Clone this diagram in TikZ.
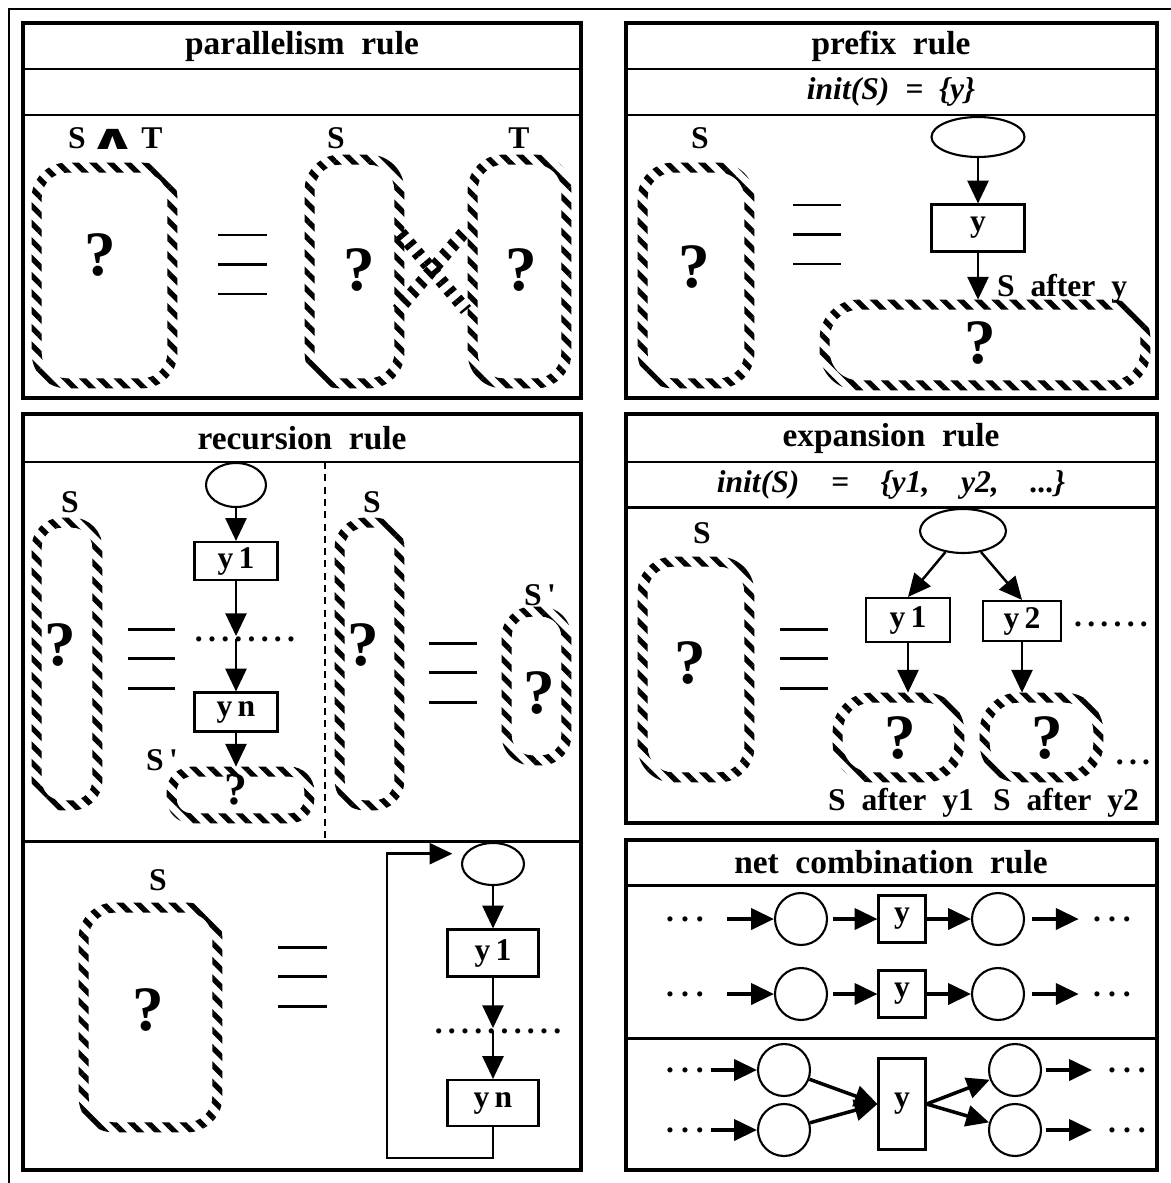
\documentclass[tikz,border=0pt]{standalone}
\usepackage{fontspec}
\setmainfont{Liberation Serif}[WordSpace=2]
\newfontfamily\wedgefont{DejaVu Sans}
\usetikzlibrary{arrows.meta,shapes.geometric,patterns.meta,fit}

\newcommand\titlefont{\fontsize{19}{23}\selectfont\bfseries}
\newcommand\labfont{\fontsize{18}{22}\selectfont\bfseries}
\newcommand\qfont{\fontsize{36}{40}\selectfont\bfseries}
\newcommand\qsmall{\fontsize{26}{30}\selectfont\bfseries}

\tikzset{
    panel/.style={line width=2.8pt},
    divider/.style={line width=1.7pt},
    eqline/.style={line width=1.7pt},
    arr/.style={-{Triangle[length=13pt,width=12pt]}, line width=1.4pt},
    arrw/.style={arr, line width=2pt},
    place/.style={draw, line width=1.2pt, inner sep=0pt},
    trans/.style={draw, rectangle, line width=1.2pt, inner sep=0pt, font=\labfont},
    lbl/.style={font=\labfont, inner sep=1pt},
    ttl/.style={font=\titlefont, inner sep=1pt},
    qm/.style={font=\qfont, inner sep=0pt},
    dotrow/.style={font=\labfont, inner sep=0pt},
    stripes/.style={pattern={Lines[angle=-45,distance=7pt,line width=3pt]}},
    stripesb/.style={pattern={Lines[angle=40,distance=7pt,line width=3pt]}},
}

% name, corner, opposite corner, corner radius
\newcommand\hatchbox[4]{%
    \node[fit={(#2) (#3)}, inner sep=0pt] (#1) {};
    \fill[stripes, even odd rule]
        [rounded corners=#4] (#1.south west) rectangle (#1.north east)
        [rounded corners=#4-5.5pt] ([shift={(10,-10)}]#1.south west) rectangle ([shift={(-10,10)}]#1.north east);
}

\begin{document}
\begin{tikzpicture}[x=0.02cm, y=-0.02cm]
    \useasboundingbox (0,0) rectangle (1170,1183);
    \draw[line width=1.2pt] (9,1200) -- (9,9) -- (1190,9);

    \foreach \xa/\ya/\xb/\yb in {
        23/23/581/398, 626/23/1157/398, 23/414/581/1170,
        626/414/1157/823, 626/840/1157/1170
     } {
        \draw[panel] (\xa,\ya) rectangle (\xb,\yb);
    }
    \draw[divider] (23,69) -- (581,69) (23,115) -- (581,115);
    \draw[divider] (626,69) -- (1157,69) (626,115) -- (1157,115);
    \draw[divider] (23,462) -- (581,462) (23,841) -- (581,841);
    \draw[divider] (626,462) -- (1157,462) (626,507) -- (1157,507);
    \draw[divider] (626,885) -- (1157,885) (626,1038) -- (1157,1038);
    \draw[line width=1.2pt, dash pattern=on 4pt off 3pt] (325,462) -- (325,841);

    \node[ttl] (t1) at (302,46) {parallelism rule};
    \node[ttl] (t2) at (891,46) {prefix rule};
    \node[ttl] (t3) at (302,438) {recursion rule};
    \node[ttl] (t4) at (891,438) {expansion rule};
    \node[ttl] (t5) at (891,862) {net combination rule};
    \node[lbl, font=\labfont\itshape] (i2) at (891,92) {init(S) = \{y\}};
    \node[lbl, font=\labfont\itshape] (i4) at (891,485) {init(S)\quad=\quad\{y1,\quad y2,\quad ...\}};

    % equivalence signs
    \foreach \xa/\xb/\ya in {218/267/235, 793/841/205, 128/175/629, 429/477/643, 278/327/947, 780/828/629} {
        \foreach \d in {0,29.5,59}
            \draw[eqline] (\xa,\ya+\d) -- (\xb,\ya+\d);
    }

    % parallelism rule
    \node[lbl] (s1) at (77,138) {S};
    \node[inner sep=0pt] (and1) at (113,139) {\wedgefont\bfseries\fontsize{36}{36}\selectfont\scalebox{0.95}[0.55]{∧}};
    \node[lbl] (tt1) at (152,138) {T};
    \node[lbl] (s1b) at (336,138) {S};
    \node[lbl] (tt1b) at (519,138) {T};
    \hatchbox{lhs1}{32,163}{177,388}{20pt}
    \hatchbox{sb1}{305,155}{404,388}{20pt}
    \hatchbox{tb1}{468,155}{571,388}{20pt}
    \fill[stripesb] (393,234) -- (403,226) -- (471,306) -- (461,314) -- cycle;
    \fill[stripes] (461,226) -- (471,234) -- (403,314) -- (393,306) -- cycle;
    \node[qm] (q11) at (100,255) {?};
    \node[qm] (q12) at (359,270) {?};
    \node[qm] (q13) at (521,270) {?};

    % prefix rule
    \node[lbl] (s2) at (700,138) {S};
    \hatchbox{lhs2}{638,163}{754,388}{20pt}
    \node[qm] (q21) at (694,267) {?};
    \node[place, ellipse, minimum width=1.86cm, minimum height=0.8cm] (e2) at (978,137) {};
    \node[trans, minimum width=1.86cm, minimum height=0.94cm] (y2) at (978,228) {y};
    \hatchbox{s2a}{820,300}{1150,390}{22pt}
    \node[qm] (q22) at (980,343) {?};
    \node[lbl, anchor=west] (l2) at (995,289) {S after y};
    \draw[arr] (e2) -- (y2);
    \draw[arr] (y2) -- (y2 |- s2a.north);

    % recursion rule
    \node[lbl] (s3) at (70,502) {S};
    \hatchbox{lhs3}{32,518}{102,810}{17pt}
    \node[qm] (q31) at (60,645) {?};
    \node[place, ellipse, minimum width=1.2cm, minimum height=0.88cm] (e3) at (236,485) {};
    \node[trans, minimum width=1.66cm, minimum height=0.76cm] (y31) at (236,561) {y\,1};
    \node[dotrow] (d3) at (245,639) {.\,.\,.\,.\,.\,.\,.\,.};
    \node[trans, minimum width=1.66cm, minimum height=0.78cm] (yn3) at (236,712) {y\,n};
    \node[lbl] (sp3l) at (162,760) {S\,\textquotesingle};
    \hatchbox{sp3}{167,767}{314,823}{14pt}
    \node[qm, font=\qsmall] (q32) at (236,790) {?};
    \draw[arr] (e3) -- (y31);
    \draw[arr] (y31) -- (y31 |- d3.north);
    \draw[arr] (d3.center -| y31) -- (yn3);
    \draw[arr] (yn3) -- (yn3 |- sp3.north);

    \node[lbl] (s3b) at (372,502) {S};
    \hatchbox{rhs3}{335,518}{404,810}{17pt}
    \node[qm] (q33) at (363,645) {?};
    \node[lbl] (sq3l) at (540,595) {S\,\textquotesingle};
    \hatchbox{sq3}{502,607}{571,765}{17pt}
    \node[qm] (q34) at (539,693) {?};

    \node[lbl] (s4) at (158,880) {S};
    \hatchbox{lb4}{79,903}{222,1132}{20pt}
    \node[qm] (q41) at (148,1010) {?};
    \node[place, ellipse, minimum width=1.24cm, minimum height=0.84cm] (e4) at (493,864) {};
    \node[trans, minimum width=1.82cm, minimum height=0.94cm] (y41) at (493,953) {y\,1};
    \node[dotrow] (d4) at (498,1031) {.\,.\,.\,.\,.\,.\,.\,.\,.\,.};
    \node[trans, minimum width=1.82cm, minimum height=0.92cm] (yn4) at (493,1103) {y\,n};
    \coordinate (lp4) at (387,1158);
    \draw[arr] (e4) -- (y41);
    \draw[arr] (y41) -- (y41 |- d4.north);
    \draw[arr] (d4.center -| y41) -- (yn4);
    \draw[arr, shorten >=7pt] (yn4) |- (lp4) |- (e4.160);

    % expansion rule
    \node[lbl] (s5) at (702,533) {S};
    \hatchbox{lhs5}{638,557}{754,782}{20pt}
    \node[qm] (q51) at (690,663) {?};
    \node[place, ellipse, minimum width=1.72cm, minimum height=0.88cm] (e5) at (963,531) {};
    \node[trans, minimum width=1.68cm, minimum height=0.88cm] (y51) at (908,620) {y\,1};
    \node[trans, minimum width=1.56cm, minimum height=0.8cm] (y52) at (1022,621) {y\,2};
    \node[dotrow] (d5) at (1111,624) {.\,.\,.\,.\,.\,.};
    \hatchbox{h51}{833,693}{964,782}{22pt}
    \hatchbox{h52}{980,693}{1103,782}{22pt}
    \node[qm] (q52) at (900,738) {?};
    \node[qm] (q53) at (1047,738) {?};
    \node[dotrow] (d5b) at (1133,762) {.\,.\,.};
    \node[lbl] (l51) at (901,803) {S after y1};
    \node[lbl] (l52) at (1066,803) {S after y2};
    \draw[arr] (e5) -- (y51.north);
    \draw[arr] (e5) -- (y52.north);
    \draw[arr] (y51) -- (y51 |- h51.north);
    \draw[arr] (y52) -- (y52 |- h52.north);

    % net combination rule
    \foreach \r/\yy in {1/919, 2/994} {
        \node[dotrow] (dl\r) at (685,\yy) {.\:.\:.};
        \node[place, circle, minimum size=1.04cm] (ca\r) at (801,\yy) {};
        \node[trans, minimum width=0.94cm, minimum height=0.94cm] (ya\r) at (902,\yy) {y};
        \node[place, circle, minimum size=1.04cm] (cb\r) at (998,\yy) {};
        \node[dotrow] (dr\r) at (1112,\yy) {.\:.\:.};
        \draw[arrw, shorten <=13pt] (dl\r) -- (ca\r);
        \draw[arrw, shorten <=3pt] (ca\r) -- (ya\r);
        \draw[arrw] (ya\r) -- (cb\r);
        \draw[arrw, shorten <=4pt, shorten >=8pt] (cb\r) -- (dr\r);
    }
    \node[trans, minimum width=0.94cm, minimum height=1.82cm] (yc) at (902,1104) {y};
    \foreach \r/\yy in {1/1070, 2/1130} {
        \node[dotrow] (dm\r) at (685,\yy) {.\:.\:.};
        \node[place, circle, minimum size=1.04cm] (cl\r) at (784,\yy) {};
        \node[place, circle, minimum size=1.04cm] (cr\r) at (1015,\yy) {};
        \node[dotrow] (dn\r) at (1127,\yy) {.\:.\:.};
        \draw[arrw, shorten <=4pt] (dm\r) -- (cl\r);
        \draw[arrw] (cl\r) -- (yc.west);
        \draw[arrw] (yc.east) -- (cr\r);
        \draw[arrw, shorten <=2pt, shorten >=9pt] (cr\r) -- (dn\r);
    }
\end{tikzpicture}
\end{document}
